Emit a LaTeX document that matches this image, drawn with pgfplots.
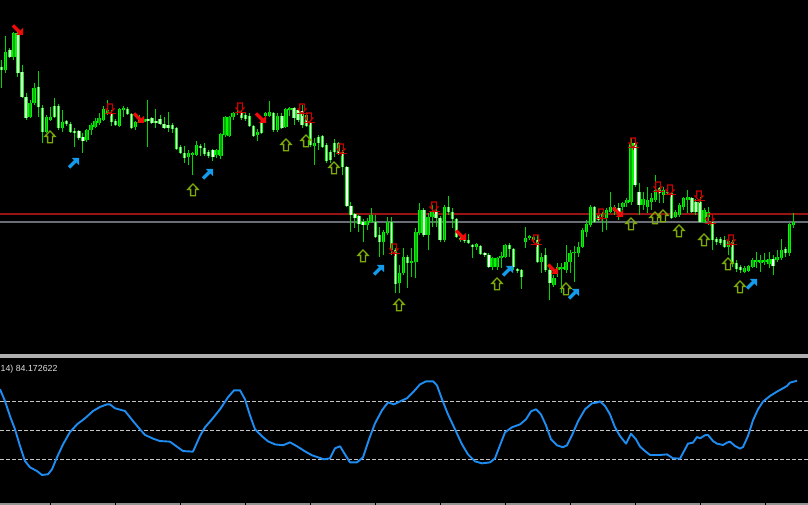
\documentclass[border=0pt]{standalone}
\usepackage{fontspec}
\setmainfont{Liberation Sans}
\usepackage{pgfplots}
\usepackage{pgfplotstable}
\pgfplotsset{compat=1.18}
\definecolor{wick}{RGB}{0,215,0}
\definecolor{bodyedge}{RGB}{0,250,0}
\definecolor{bullfill}{RGB}{0,170,0}
\definecolor{bearfill}{RGB}{245,255,245}
\definecolor{arrred}{RGB}{240,10,10}
\definecolor{arrblue}{RGB}{20,155,235}
\definecolor{arrolive}{RGB}{125,170,10}
\definecolor{fracred}{RGB}{205,0,0}
\definecolor{resred}{RGB}{150,20,20}
\definecolor{supgray}{RGB}{105,110,120}
\definecolor{rsiblue}{RGB}{30,140,240}
\definecolor{sepgray}{RGB}{175,175,175}
\definecolor{lvlgray}{RGB}{195,195,195}

\pgfdeclareplotmark{sellarr}{%
  \pgfpathmoveto{\pgfqpoint{5pt}{-5pt}}%
  \pgfpathlineto{\pgfqpoint{5pt}{2.2pt}}%
  \pgfpathlineto{\pgfqpoint{-2.2pt}{-5pt}}%
  \pgfpathclose
  \pgfusepathqfill
  \pgfsetlinewidth{3.4pt}%
  \pgfpathmoveto{\pgfqpoint{-5pt}{4.5pt}}%
  \pgfpathlineto{\pgfqpoint{2pt}{-2.5pt}}%
  \pgfusepathqstroke
}
\pgfdeclareplotmark{buyarr}{%
  \pgfpathmoveto{\pgfqpoint{5pt}{5pt}}%
  \pgfpathlineto{\pgfqpoint{5pt}{-2.2pt}}%
  \pgfpathlineto{\pgfqpoint{-2.2pt}{5pt}}%
  \pgfpathclose
  \pgfusepathqfill
  \pgfsetlinewidth{3.4pt}%
  \pgfpathmoveto{\pgfqpoint{-5pt}{-4.5pt}}%
  \pgfpathlineto{\pgfqpoint{2pt}{2.5pt}}%
  \pgfusepathqstroke
}
\pgfdeclareplotmark{uphollow}{%
  \pgfsetlinewidth{1.3pt}%
  \pgfpathmoveto{\pgfqpoint{0pt}{6pt}}%
  \pgfpathlineto{\pgfqpoint{5.2pt}{0.6pt}}%
  \pgfpathlineto{\pgfqpoint{2.4pt}{0.6pt}}%
  \pgfpathlineto{\pgfqpoint{2.4pt}{-5.8pt}}%
  \pgfpathlineto{\pgfqpoint{-2.4pt}{-5.8pt}}%
  \pgfpathlineto{\pgfqpoint{-2.4pt}{0.6pt}}%
  \pgfpathlineto{\pgfqpoint{-5.2pt}{0.6pt}}%
  \pgfpathclose
  \pgfusepathqstroke
}
\pgfdeclareplotmark{downhollow}{%
  \pgfsetlinewidth{1.1pt}%
  \pgfpathmoveto{\pgfqpoint{-2.3pt}{5pt}}%
  \pgfpathlineto{\pgfqpoint{2.3pt}{5pt}}%
  \pgfpathlineto{\pgfqpoint{2.3pt}{0pt}}%
  \pgfpathlineto{\pgfqpoint{4pt}{0pt}}%
  \pgfpathlineto{\pgfqpoint{0pt}{-4.5pt}}%
  \pgfpathlineto{\pgfqpoint{-4pt}{0pt}}%
  \pgfpathlineto{\pgfqpoint{-2.3pt}{0pt}}%
  \pgfpathclose
  \pgfusepathqstroke
  \pgfsetlinewidth{0.9pt}%
  \pgfpathmoveto{\pgfqpoint{-5.5pt}{-4.5pt}}%
  \pgfpathlineto{\pgfqpoint{5.5pt}{-4.5pt}}%
  \pgfpathmoveto{\pgfqpoint{0pt}{-4.5pt}}%
  \pgfpathlineto{\pgfqpoint{0pt}{-7pt}}%
  \pgfusepathqstroke
}

% candles: bar index, open, high, low, close (screen units, larger = lower price)
\pgfplotstableread{
i o h l c
0 67 60 88 70
1 70 36 73 52
2 50 48 58 57
3 57 32 60 33
4 33 32 77 73
5 72 65 98 97
6 97 93 120 118
7 117 100 118 103
8 103 83 105 88
9 87 71 117 107
10 108 105 143 132
11 132 115 133 117
12 120 107 121 117
13 106 98 118 117
14 106 104 130 128
15 128 110 132 122
16 121 120 126 124
17 124 122 133 132
18 131 128 147 133
19 131 130 140 138
20 137 133 153 141
21 140 129 142 130
22 130 123 135 125
23 127 118 128 121
24 123 113 125 118
25 120 106 121 109
26 113 100 115 110
27 113 110 126 122
28 121 119 126 125
29 126 108 127 109
30 110 106 117 108
31 109 107 115 114
32 114 113 129 128
33 127 121 130 122
34 122 115 123 120
35 122 118 123 119
36 119 100 147 121
37 118 117 124 123
38 121 109 128 123
39 119 115 125 124
40 124 117 129 128
41 125 112 132 128
42 125 123 133 129
43 128 127 150 149
44 147 145 154 153
45 153 146 163 158
46 157 150 165 153
47 155 152 175 153
48 155 141 156 145
49 146 144 156 148
50 148 143 156 154
51 152 150 158 156
52 150 149 161 157
53 155 149 158 150
54 156 133 159 134
55 135 116 137 117
56 136 116 137 117
57 117 112 120 113
58 113 103 115 112
59 112 110 120 118
60 115 113 121 119
61 116 113 127 126
62 126 125 137 136
63 135 129 141 132
64 123 122 134 133
65 116 112 122 113
66 116 101 117 112
67 113 112 132 130
68 130 113 132 116
69 116 113 129 128
70 127 108 128 109
71 110 107 116 108
72 108 107 125 118
73 110 109 122 120
74 111 105 128 125
75 115 113 127 126
76 123 122 147 145
77 146 138 165 143
78 137 135 150 143
79 136 135 148 147
80 145 143 163 161
81 152 150 163 160
82 143 139 157 152
83 143 142 155 153
84 152 150 175 167
85 167 166 207 206
86 206 202 232 215
87 214 213 228 218
88 216 215 232 224
89 222 219 242 225
90 225 218 230 221
91 222 208 223 215
92 222 215 238 237
93 235 227 257 242
94 242 230 255 232
95 233 217 235 222
96 222 217 255 250
97 250 248 293 284
98 283 265 293 273
99 273 248 275 257
100 257 255 288 263
101 263 248 277 261
102 262 228 278 232
103 233 203 235 210
104 210 208 237 235
105 235 213 250 217
106 217 205 227 212
107 212 208 227 218
108 218 216 242 240
109 240 205 242 207
110 207 196 215 212
111 212 208 228 219
112 219 218 238 237
113 238 237 242 240
114 239 236 243 241
115 240 234 244 243
116 245 244 258 247
117 247 243 250 244
118 246 245 255 254
119 253 252 257 255
120 255 253 268 267
121 267 257 270 258
122 267 257 270 258
123 258 252 268 256
124 257 244 258 245
125 245 243 257 249
126 249 248 270 267
127 269 268 273 271
128 270 269 289 277
129 242 227 248 238
130 238 235 240 236
131 237 235 243 240
132 240 235 263 262
133 262 253 273 257
134 255 248 272 270
135 270 267 300 283
136 285 275 287 278
137 270 263 277 267
138 269 263 293 267
139 270 245 273 262
140 262 250 273 253
141 253 246 282 252
142 253 242 257 247
143 247 228 248 230
144 232 220 237 224
145 225 205 227 207
146 207 206 223 222
147 215 210 222 220
148 217 212 232 214
149 218 208 230 210
150 212 192 213 207
151 211 205 215 207
152 208 203 220 212
153 207 202 210 203
154 203 198 207 200
155 202 138 205 143
156 143 138 187 185
157 192 183 215 205
158 205 192 210 199
159 207 187 213 200
160 202 193 210 198
161 200 175 202 190
162 188 187 203 193
163 195 187 203 190
164 192 188 195 193
165 193 192 219 218
166 217 210 218 212
167 215 203 217 205
168 207 197 210 198
169 200 190 213 197
170 198 197 213 212
171 202 199 215 212
172 202 197 223 222
173 222 208 223 210
174 217 207 225 212
175 222 220 250 240
176 239 237 245 242
177 239 237 245 243
178 240 236 248 247
179 247 238 255 241
180 242 240 267 264
181 263 260 272 269
182 267 265 273 270
183 272 266 273 268
184 271 265 272 266
185 267 258 268 260
186 262 252 268 260
187 263 255 272 260
188 262 253 265 260
189 264 252 268 259
190 259 255 275 266
191 260 250 262 257
192 258 239 260 250
193 249 247 257 253
194 253 223 256 224
195 225 213 228 222
}\candles

\pgfplotstableread{
px rsi
0 78.3
5 70.2
10 59.7
15 50.7
20 39.2
25 28.8
30 24.5
37 21.9
42 19.2
48 19.7
52 23.1
57 31.4
63 40.3
70 48.8
77 54.1
85 58.3
93 63.3
100 66.1
107 67.9
110 67.9
115 65.2
125 63.3
133 56.4
140 50.7
145 46.8
153 44.3
160 42.6
170 42.2
175 39.7
183 35.7
193 35.3
200 46.1
205 52.1
212 57.6
220 64.5
228 72.8
234 77.6
240 77.6
245 71.4
250 60.3
255 50.7
262 45.9
268 42.4
275 40.3
283 39.7
290 41.7
297 39.0
305 35.5
312 32.8
318 31.4
324 30.0
330 30.7
335 37.6
340 39.0
345 33.4
350 27.9
357 27.9
363 31.4
369 43.8
375 54.8
382 63.8
388 69.3
394 67.9
400 70.0
407 72.1
413 76.2
420 81.7
426 83.8
433 83.8
437 81.0
442 71.4
448 61.0
455 50.7
462 40.3
468 33.4
475 28.6
482 27.2
490 27.9
495 30.7
500 39.7
505 48.6
512 52.1
520 54.1
526 57.6
531 63.1
536 64.5
541 61.0
546 53.4
551 43.8
557 39.7
563 38.3
567 39.7
572 46.6
578 56.2
585 64.5
592 68.6
598 69.3
600 70.0
605 66.8
610 61.0
615 52.1
620 46.1
626 40.8
631 47.7
636 43.8
640 38.8
645 35.7
650 33.0
660 33.0
667 33.4
673 30.7
680 30.5
688 40.8
693 41.5
697 45.4
700 44.5
705 46.6
708 46.8
713 42.6
717 40.8
723 39.9
727 41.5
730 42.2
735 39.2
740 37.4
743 38.5
748 46.1
753 56.9
758 64.5
763 69.8
770 73.7
777 76.7
783 79.0
787 80.6
790 82.9
797 84.17
}\rsidata

\begin{document}
\begin{tikzpicture}[x=1pt,y=1pt]
\fill[black] (0,0) rectangle (808,505);
% separator and bottom bar
\fill[sepgray] (0,147.4) rectangle (808,151);
\fill[gray!85] (0,0) rectangle (808,2.2);
\foreach \t in {50,115,180,245,310,375,440,505,570,635,700,765}
  \fill[black] (\t-0.5,0) rectangle (\t+0.5,2.2);

% y dir=reverse negates the y of at=, so the centre (404,328.5) is given as (404,-328.5)
\begin{axis}[at={(404,-328.5)},anchor=center,scale only axis,
  width=808pt,height=353pt,xmin=0,xmax=808,ymin=0,ymax=353,
  y dir=reverse,hide axis]
  \addplot[resred,line width=1.8pt] coordinates {(0,214) (808,214)};
  \addplot[supgray,line width=1.8pt] coordinates {(0,221.7) (808,221.7)};
  % wicks
  \addplot[draw=none,mark=none,
    error bars/.cd,y dir=minus,y explicit,error mark=none,
    error bar style={draw=wick,line width=1pt}]
    table[x expr=1.7+4.06*\thisrow{i},y=l,y error minus expr=\thisrow{l}-\thisrow{h}] {\candles};
  % bearish bodies
  \addplot[draw=none,mark=none,restrict expr to domain={\thisrow{c}-\thisrow{o}}{0.5:1000},
    error bars/.cd,y dir=minus,y explicit,error mark=none,
    error bar style={draw=bodyedge,line width=3.4pt}]
    table[x expr=1.7+4.06*\thisrow{i},y=c,y error minus expr=\thisrow{c}-\thisrow{o}] {\candles};
  \addplot[draw=none,mark=none,restrict expr to domain={\thisrow{c}-\thisrow{o}}{0.5:1000},
    error bars/.cd,y dir=minus,y explicit,error mark=none,
    error bar style={draw=bearfill,line width=1.4pt}]
    table[x expr=1.7+4.06*\thisrow{i},y=c,y error minus expr=\thisrow{c}-\thisrow{o}] {\candles};
  % bullish bodies
  \addplot[draw=none,mark=none,restrict expr to domain={\thisrow{o}-\thisrow{c}}{0.5:1000},
    error bars/.cd,y dir=minus,y explicit,error mark=none,
    error bar style={draw=bodyedge,line width=3.4pt}]
    table[x expr=1.7+4.06*\thisrow{i},y=o,y error minus expr=\thisrow{o}-\thisrow{c}] {\candles};
  \addplot[draw=none,mark=none,restrict expr to domain={\thisrow{o}-\thisrow{c}}{0.5:1000},
    error bars/.cd,y dir=minus,y explicit,error mark=none,
    error bar style={draw=bullfill,line width=1.4pt}]
    table[x expr=1.7+4.06*\thisrow{i},y=o,y error minus expr=\thisrow{o}-\thisrow{c}] {\candles};
  % signals
  \addplot[only marks,mark=downhollow,mark options={draw=fracred}] table {
x y
110 109
240 108
302 109
309 118
341 149
394 249
434 207
536 240
601 214
633 143
658 187
670 190
699 196
710 219
731 240
};
  \addplot[only marks,mark=uphollow,mark options={draw=arrolive}] table {
x y
50 137
193 190
286 145
306 141
334 168
363 256
399 305
497 284
566 289
631 224
655 218
663 216
679 231
704 240
728 264
740 287
};
  \addplot[only marks,mark=sellarr,mark options={draw=arrred,fill=arrred}] table {
x y
18 30
139 118
261 118
461 235
553 269
618 212
};
  \addplot[only marks,mark=buyarr,mark options={draw=arrblue,fill=arrblue}] table {
x y
74 163
208 174
379 270
508 271
574 294
752 284
};
\end{axis}

\begin{axis}[at={(0,1.5)},anchor=south west,scale only axis,
  width=808pt,height=145pt,xmin=0,xmax=808,ymin=0,ymax=100,hide axis]
  \addplot[lvlgray,line width=0.9pt,dash pattern=on 3.5pt off 2.5pt] coordinates {(0,70) (808,70)};
  \addplot[lvlgray,line width=0.9pt,dash pattern=on 3.5pt off 2.5pt] coordinates {(0,50) (808,50)};
  \addplot[lvlgray,line width=0.9pt,dash pattern=on 3.5pt off 2.5pt] coordinates {(0,30) (808,30)};
  \addplot[rsiblue,line width=1.9pt,line join=round] table[x=px,y=rsi] {\rsidata};
\end{axis}
\node[anchor=base west,inner sep=0pt,text=black!12,font=\fontsize{8.8}{10}\selectfont] at (0.5,133.5) {14) 84.172622};
\end{tikzpicture}
\end{document}
